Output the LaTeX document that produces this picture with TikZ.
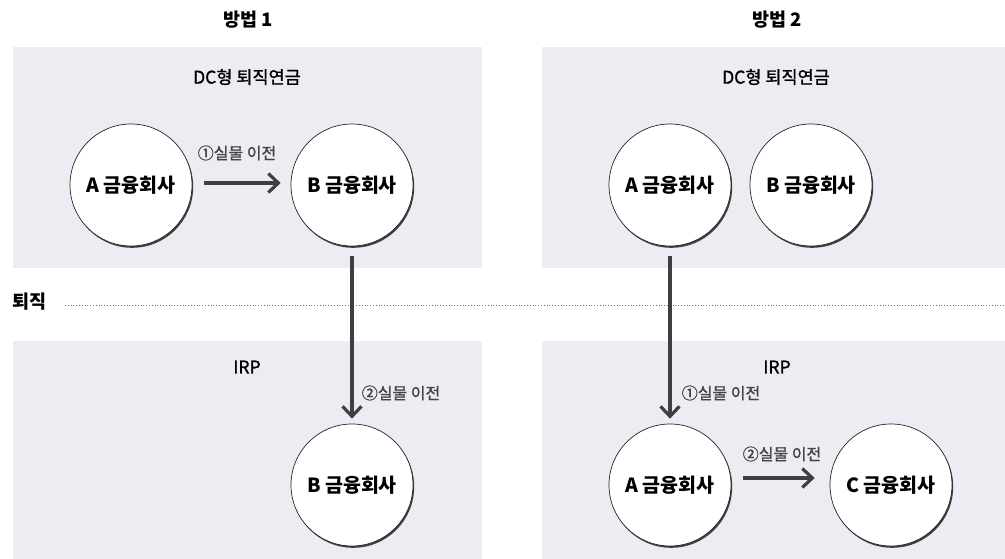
\documentclass[tikz,border=0pt]{standalone}
\usepackage{fontspec}
\setmainfont{Noto Sans CJK KR}
\newfontfamily\medfont{Noto Sans CJK KR}[FakeBold=1.2]
\usetikzlibrary{arrows.meta,shadows}
\definecolor{panelbg}{HTML}{ECEDF2}
\definecolor{arrowc}{HTML}{3F3F3F}
\definecolor{labelc}{HTML}{444444}
\tikzset{
  x=1pt,y=-1pt,
  panel/.style={fill=panelbg,draw=none},
  firm/.style={circle,fill=white,draw=black!85,line width=0.7pt,minimum size=122pt,inner sep=0pt,
    font=\bfseries\fontsize{19.5}{22}\selectfont,
    drop shadow={shadow xshift=1.2pt,shadow yshift=-1.8pt,opacity=1,fill=black!75}},
  heading/.style={font=\bfseries\fontsize{18.5}{21}\selectfont},
  boxtitle/.style={font=\medfont\fontsize{17.5}{20}\selectfont},
  flowlabel/.style={font=\medfont\fontsize{16}{18}\selectfont,text=labelc},
  flow/.style={draw=arrowc,line width=3.2pt,-{Straight Barb[length=10pt,width=19pt,line width=3.2pt]}},
}
\begin{document}
\begin{tikzpicture}
\useasboundingbox[fill=white] (0,0) rectangle (1005,559);
% panels
\fill[panel] (13,47) rectangle (482,268);
\fill[panel] (542,47) rectangle (1005,268);
\fill[panel] (13,341) rectangle (482,559);
\fill[panel] (542,341) rectangle (1005,559);
% headings
\node[heading] (h1) at (248,20) {방법 1};
\node[heading] (h2) at (777,20) {방법 2};
\node[boxtitle] (dc1) at (247,77) {DC형 퇴직연금};
\node[boxtitle] (dc2) at (776,77) {DC형 퇴직연금};
\node[boxtitle] (irp1) at (247,367) {IRP};
\node[boxtitle] (irp2) at (777,367) {IRP};
% retirement line
\node[heading,anchor=west,inner sep=0pt] (ret) at (12,302) {퇴직};
\coordinate (lineend) at (1005,305);
\draw[black!55,line width=0.8pt,dotted] (65,305) -- (lineend);
% method 1
\node[firm] (a1) at (131,185) {A 금융회사};
\node[firm] (b1) at (352,185) {B 금융회사};
\node[firm] (b1i) at (352,485) {B 금융회사};
\draw[flow,shorten <=12pt,shorten >=10pt] ([yshift=2pt]a1.east) -- ([yshift=2pt]b1.west);
\node[flowlabel] (l11) at (237,153) {①실물 이전};
\draw[flow,shorten <=10pt,shorten >=5pt] (b1.south) -- (b1i.north);
\node[flowlabel] (l12) at (401,393) {②실물 이전};
% method 2
\node[firm] (a2) at (670,185) {A 금융회사};
\node[firm] (b2) at (811,185) {B 금융회사};
\node[firm] (a2i) at (670,485) {A 금융회사};
\node[firm] (c2i) at (891,485) {C 금융회사};
\draw[flow,shorten <=10pt,shorten >=5pt] (a2.south) -- (a2i.north);
\node[flowlabel] (l21) at (721,393) {①실물 이전};
\draw[flow,shorten <=12pt,shorten >=15pt] ([yshift=7pt]a2i.east) -- ([yshift=7pt]c2i.west);
\node[flowlabel] (l22) at (782,454) {②실물 이전};
\end{tikzpicture}
\end{document}
